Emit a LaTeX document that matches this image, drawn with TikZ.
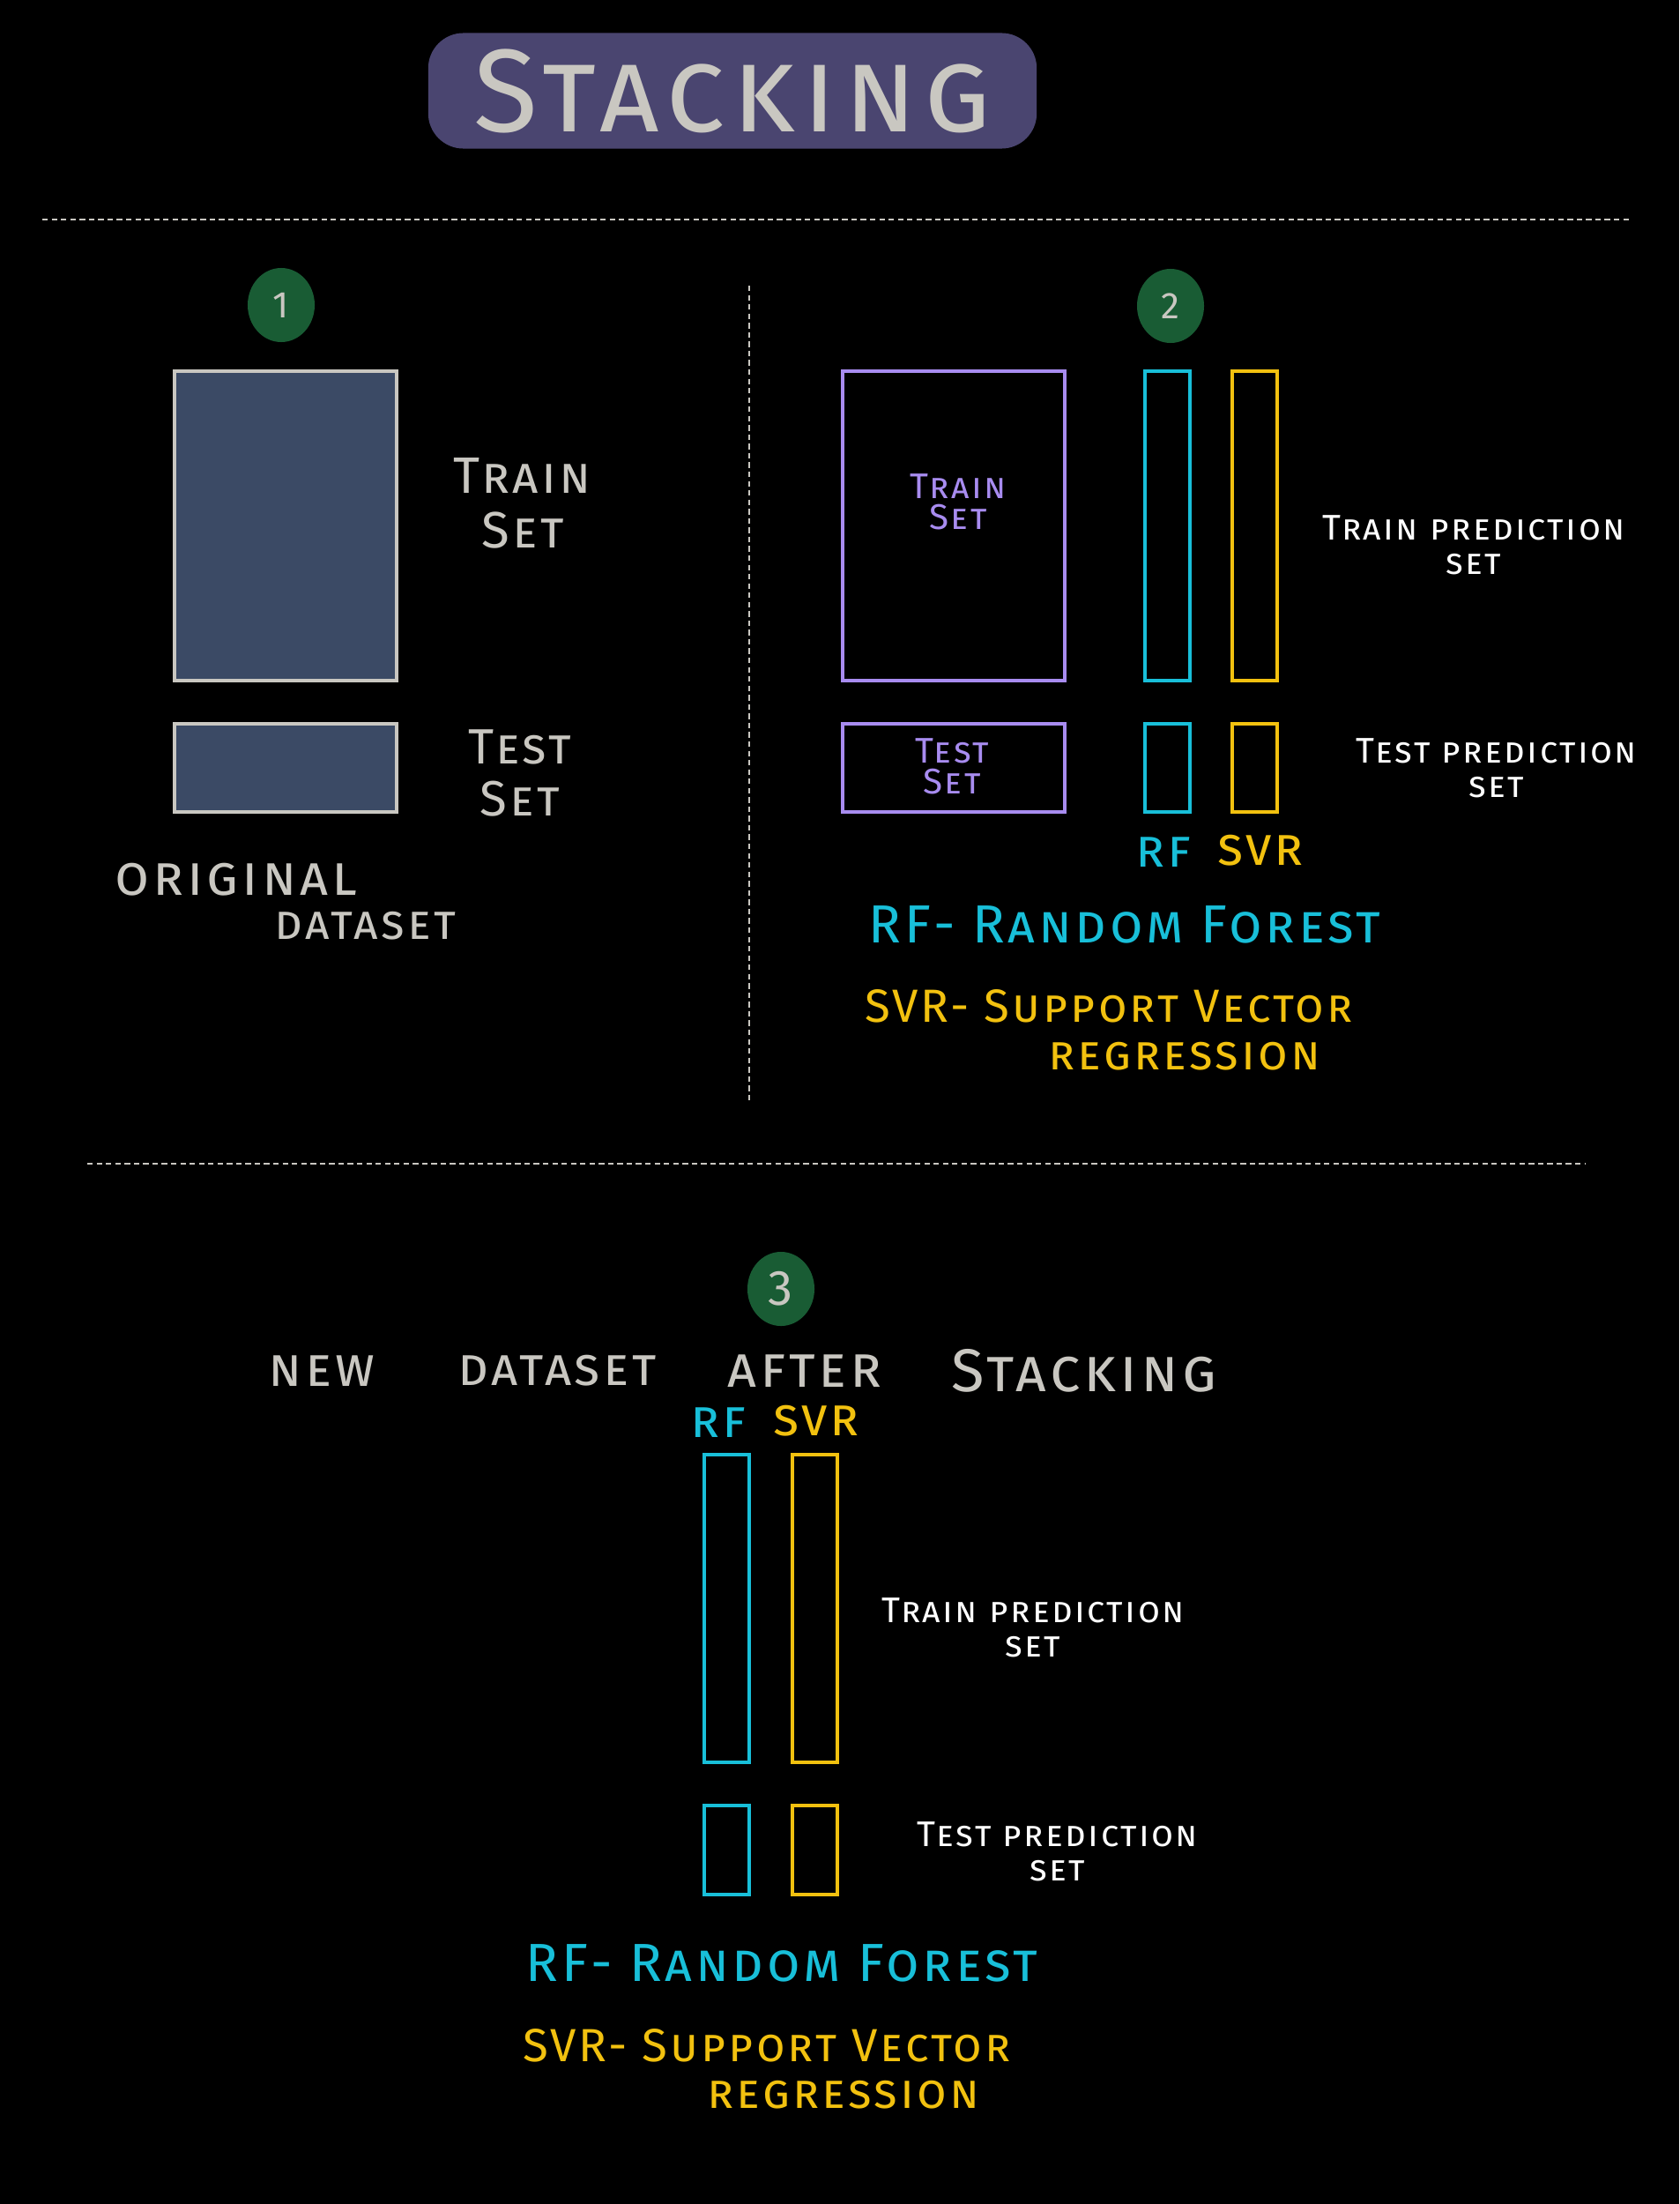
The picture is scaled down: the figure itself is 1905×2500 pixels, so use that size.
\documentclass[tikz,border=0pt]{standalone}
\usepackage{fontspec}
\setmainfont{Fira Sans}[LetterSpace=6]
\usepackage{tikz}
\usetikzlibrary{shapes.geometric}

\definecolor{chalk}{RGB}{201,199,193}
\definecolor{titlefill}{RGB}{74,69,112}
\definecolor{badgegreen}{RGB}{25,92,52}
\definecolor{slate}{RGB}{59,74,101}
\definecolor{lilac}{RGB}{168,140,240}
\definecolor{rfcyan}{RGB}{24,191,217}
\definecolor{svryellow}{RGB}{242,193,15}
\newcommand\fs[2]{\fontsize{#1}{#2}\selectfont\scshape}

\begin{document}
\begin{tikzpicture}[x=0.01cm,y=-0.01cm,
    every node/.style={inner sep=0pt,align=center},
    badge/.style={ellipse,fill=badgegreen,minimum width=0.76cm,minimum height=0.84cm,text=chalk},
    setbox/.style={draw=#1,line width=1.2pt,minimum width=2.52cm},
    bar/.style={draw=#1,line width=1.2pt,minimum width=0.51cm},
    sep/.style={chalk,line width=0.6pt,dash pattern=on 1.8pt off 1.2pt},
    chalktext/.style={text=chalk,font=\fs{#1}{#1}},
    note/.style={text=white,font=\fs{11.5}{11}},
    rftext/.style={text=rfcyan,font=\fs{#1}{#1}},
    svrtext/.style={text=svryellow,font=\fs{#1}{#1}}]
  \fill[black] (0,0) rectangle (1905,2500);
  \useasboundingbox (0,0) rectangle (1905,2500);

  \node[fill=titlefill,rounded corners=0.4cm,minimum width=6.9cm,minimum height=1.31cm,
        text=chalk,font=\fs{38}{38}] (title) at (831,103) {Stacking};

  \draw[sep] (48,249) -- (1849,249);
  \draw[sep] (850,324) -- (850,1248);
  \draw[sep] (99,1320) -- (1798,1320);

  % 1: original dataset
  \node[badge,font=\fs{12}{12}] (one) at (319,346) {1};
  \node[setbox=chalk,fill=slate,minimum height=3.51cm] (trainA) at (324,596.5) {};
  \node[setbox=chalk,fill=slate,minimum height=1.0cm] (testA) at (324,871) {};
  \node[chalktext=16.5] (trainAlbl) at (593,571) {Train\\[1pt]Set};
  \node[chalktext=16] (testAlbl) at (590,877) {Test\\[1pt]Set};
  \node[chalktext=18] (orig) at (268,998) {original};
  \node[chalktext=15.5] (origds) at (414,1050) {dataset};

  % 2: base model predictions
  \node[badge,font=\fs{12}{12}] (two) at (1328,347) {2};
  \node[setbox=lilac,minimum height=3.51cm] (trainB) at (1082,596.5) {};
  \node[setbox=lilac,minimum height=1.0cm] (testB) at (1082,871) {};
  \node[text=lilac,font=\fs{11.5}{10}] at (1087,569) {Train\\Set};
  \node[text=lilac,font=\fs{11.5}{10}] at (1080,869) {Test\\Set};
  \foreach \x/\c/\n in {1324.5/rfcyan/rf,1423.5/svryellow/svr}{
    \node[bar=\c,minimum height=3.51cm] (\n trainB) at (\x,596.5) {};
    \node[bar=\c,minimum height=1.0cm] (\n testB) at (\x,871) {};
  }
  \node[rftext=17] (rfB) at (1320,967) {rf};
  \node[svrtext=17] (svrB) at (1430,965) {svr};
  \node[note] at (1672,618) {Train prediction\\set};
  \node[note] at (1698,871) {Test prediction\\set};
  \node[rftext=17.3] at (1276,1049) {RF- Random Forest};
  \node[svrtext=15] at (1258,1141) {SVR- Support Vector};
  \node[svrtext=15.5] at (1344,1198) {regression};

  % 3: new dataset
  \node[badge,font=\fs{16}{16}] (three) at (886,1462) {3};
  \node[chalktext=17.5] at (365,1555) {new};
  \node[chalktext=17] at (632,1555) {dataset};
  \node[chalktext=18.5] at (913,1555) {after};
  \node[chalktext=19.5] at (1230,1555) {Stacking};
  \node[rftext=17] (rfC) at (815,1614) {rf};
  \node[svrtext=17] (svrC) at (926,1612) {svr};
  \foreach \x/\c/\n in {824.5/rfcyan/rf,924.5/svryellow/svr}{
    \node[bar=\c,minimum height=3.49cm] (\n trainC) at (\x,1824.5) {};
    \node[bar=\c,minimum height=1.01cm] (\n testC) at (\x,2098.5) {};
  }
  \node[note] at (1172,1846) {Train prediction\\set};
  \node[note] at (1200,2100) {Test prediction\\set};
  \node[rftext=17.3] at (887,2227) {RF- Random Forest};
  \node[svrtext=15] at (870,2320) {SVR- Support Vector};
  \node[svrtext=15.5] at (957,2376) {regression};
\end{tikzpicture}
\end{document}
